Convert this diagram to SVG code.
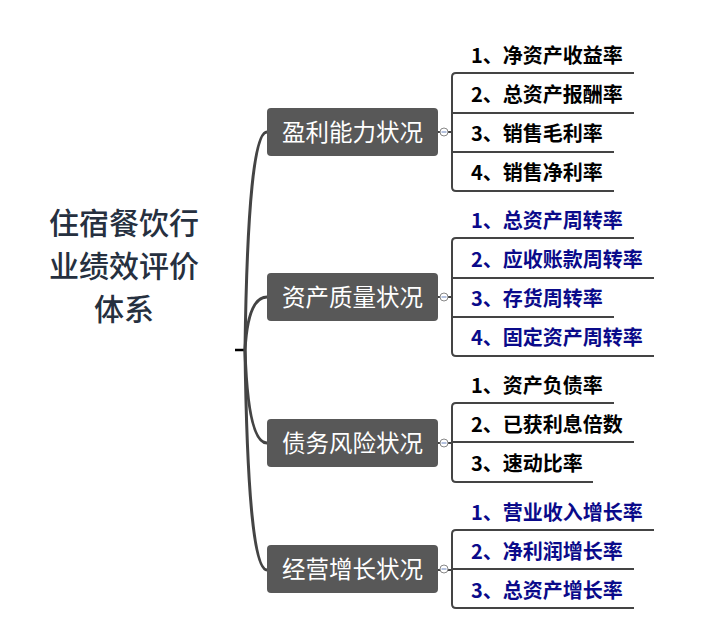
<svg xmlns="http://www.w3.org/2000/svg" width="721" height="642" viewBox="0 0 721 642">
<style>
.root{font-family:"Noto Sans CJK SC","Microsoft YaHei",sans-serif;font-size:30px;font-weight:500;fill:#26303f;text-anchor:middle}
.box{fill:#585858}
.ntxt{font-family:"Noto Sans CJK SC",sans-serif;font-size:23.5px;fill:#fff;text-anchor:middle}
.leaf{font-family:"Noto Sans CJK SC",sans-serif;font-size:20px;font-weight:bold}
.k{fill:#000}
.b{fill:#0a0a8a}
.trunk{fill:none;stroke:#444;stroke-width:3}
.br{fill:none;stroke:#444;stroke-width:2}
.col{fill:#fff;stroke:#888;stroke-width:1}
.minus{stroke:#6a85c0;stroke-width:1}
</style>
<rect width="721" height="642" fill="#fff"/>
<g id="root">
<text class="root" x="124" y="234">住宿餐饮行</text>
<text class="root" x="124" y="277">业绩效评价</text>
<text class="root" x="124" y="320">体系</text>
<line x1="235" y1="350" x2="246" y2="350" stroke="#000" stroke-width="2.5"/>
</g>
<g id="connectors">
<path class="trunk" d="M245,350 Q248,132 267,132"/>
<path class="trunk" d="M245,350 Q248,297 267,297"/>
<path class="trunk" d="M245,350 Q248,443 267,443"/>
<path class="trunk" d="M245,350 Q248,570 267,570"/>
<path class="br" d="M438,132 H452"/>
<path class="br" d="M634,73 H456 Q452,73 452,77 V187 Q452,191 456,191 H614 M452,113 H634 M452,152 H614"/>
<path class="br" d="M438,297 H452"/>
<path class="br" d="M634,238 H456 Q452,238 452,242 V352 Q452,356 456,356 H654 M452,278 H654 M452,317 H614"/>
<path class="br" d="M438,443 H452"/>
<path class="br" d="M614,403 H456 Q452,403 452,407 V478 Q452,482 456,482 H593 M452,442 H634"/>
<path class="br" d="M438,570 H452"/>
<path class="br" d="M654,530 H456 Q452,530 452,534 V604 Q452,608 456,608 H634 M452,569 H634"/>
</g>
<g id="n1">
<rect class="box" x="267" y="108" width="171" height="48" rx="4"/>
<text class="ntxt" x="352.5" y="140.5">盈利能力状况</text>
<circle class="col" cx="444" cy="132" r="4"/><line class="minus" x1="441.5" y1="132" x2="446.5" y2="132"/>
</g>
<g id="n2">
<rect class="box" x="267" y="273" width="171" height="48" rx="4"/>
<text class="ntxt" x="352.5" y="305.5">资产质量状况</text>
<circle class="col" cx="444" cy="297" r="4"/><line class="minus" x1="441.5" y1="297" x2="446.5" y2="297"/>
</g>
<g id="n3">
<rect class="box" x="267" y="419" width="171" height="48" rx="4"/>
<text class="ntxt" x="352.5" y="451.5">债务风险状况</text>
<circle class="col" cx="444" cy="443" r="4"/><line class="minus" x1="441.5" y1="443" x2="446.5" y2="443"/>
</g>
<g id="n4">
<rect class="box" x="267" y="545" width="171" height="48" rx="4"/>
<text class="ntxt" x="352.5" y="577.5">经营增长状况</text>
<circle class="col" cx="444" cy="569" r="4"/><line class="minus" x1="441.5" y1="569" x2="446.5" y2="569"/>
</g>
<g id="leaves1">
<text class="leaf k" x="471" y="63">1、净资产收益率</text>
<text class="leaf k" x="471" y="102">2、总资产报酬率</text>
<text class="leaf k" x="471" y="141">3、销售毛利率</text>
<text class="leaf k" x="471" y="180">4、销售净利率</text>
</g>
<g id="leaves2">
<text class="leaf b" x="471" y="228">1、总资产周转率</text>
<text class="leaf b" x="471" y="267">2、应收账款周转率</text>
<text class="leaf b" x="471" y="306">3、存货周转率</text>
<text class="leaf b" x="471" y="345">4、固定资产周转率</text>
</g>
<g id="leaves3">
<text class="leaf k" x="471" y="393">1、资产负债率</text>
<text class="leaf k" x="471" y="432">2、已获利息倍数</text>
<text class="leaf k" x="471" y="471">3、速动比率</text>
</g>
<g id="leaves4">
<text class="leaf b" x="471" y="520">1、营业收入增长率</text>
<text class="leaf b" x="471" y="559">2、净利润增长率</text>
<text class="leaf b" x="471" y="598">3、总资产增长率</text>
</g>
</svg>
